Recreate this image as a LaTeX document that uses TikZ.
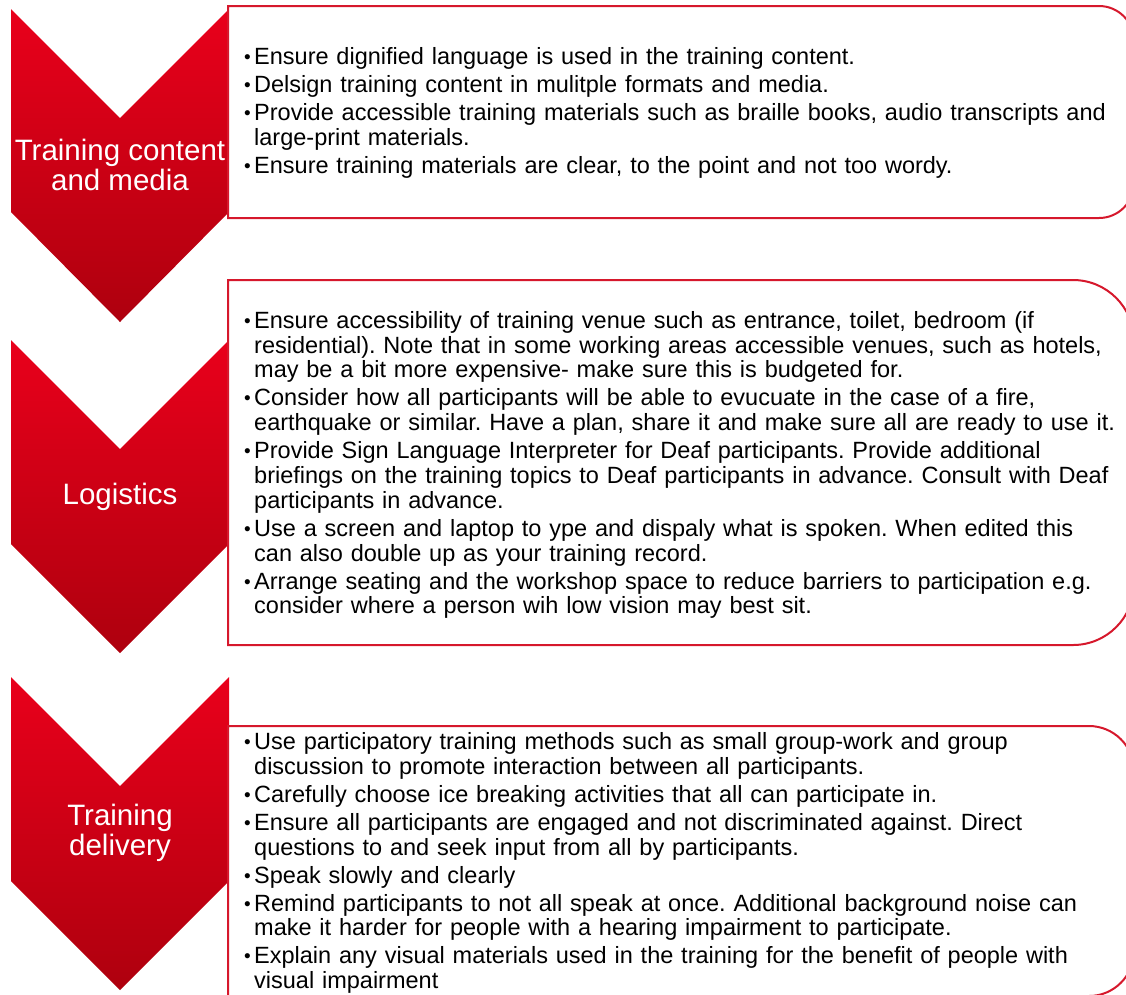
\documentclass[tikz,border=0pt]{standalone}
\usepackage{fontspec}
\setmainfont{Liberation Sans}
\definecolor{chevtop}{RGB}{233,0,27}
\definecolor{chevbot}{RGB}{174,0,14}
\definecolor{rimred}{RGB}{214,24,44}
\newcommand{\bitem}[1]{\hangindent=11pt\hangafter=1\noindent
	\makebox[11pt][l]{\hspace{1pt}\raisebox{1pt}{\fontsize{19}{19}\selectfont\textbullet}}#1\par}

\begin{document}
\begin{tikzpicture}[x=1pt, y=-1pt,
  chevron/.style={top color=chevtop, bottom color=chevbot, draw=none},
  listbox/.style={draw=rimred, line width=2pt, fill=white},
  heading/.style={text=white, align=center, inner sep=0pt, font=\fontsize{29.5}{30.5}\selectfont},
  bullets/.style={anchor=west, inner sep=0pt, text width=900pt,
    font=\fontsize{23.5}{24.8}\selectfont\frenchspacing\raggedright\setlength{\parskip}{3.2pt}}]
	\useasboundingbox (0,0) rectangle (1126,994);
	\clip (0,0) rectangle (1126,994);

	% chevrons
	\path[chevron] (11,9) -- (120,118) -- (229,9) -- (229,212) -- (120,322) -- (11,212) -- cycle;
	\path[chevron] (11,340) -- (120,449) -- (229,340) -- (229,544) -- (120,653) -- (11,544) -- cycle;
	\path[chevron] (11,677) -- (120,786) -- (229,677) -- (229,881) -- (120,990) -- (11,881) -- cycle;
	\node[heading] (h1) at (120,165) {Training content\\and media};
	\node[heading] (h2) at (120,497) {Logistics};
	\node[heading] (h3) at (120,833) {Training\\delivery};

	% text panels, rounded on the right
	\draw[listbox] (228,6) -- (1099,6) arc[start angle=-90, end angle=0, radius=35]
		-- (1134,183) arc[start angle=0, end angle=90, radius=35] -- (228,218) -- cycle;
	\draw[listbox] (228,280) -- (1073,280) arc[start angle=-90, end angle=0, radius=61]
		-- (1134,584) arc[start angle=0, end angle=90, radius=61] -- (228,645) -- cycle;
	\draw[listbox] (228,726) -- (1089,726) arc[start angle=-90, end angle=0, radius=45]
		-- (1134,951) arc[start angle=0, end angle=90, radius=45] -- (228,996) -- cycle;

	\node[bullets] (l1) at (243,113) {%
		\bitem{Ensure dignified language is used in the training content.}
		\bitem{Delsign training content in mulitple formats and media.}
		\bitem{Provide accessible training materials such as braille books, audio transcripts and\newline large-print materials.}
		\bitem{Ensure training materials are clear, to the point and not too wordy.}};
	\node[bullets] (l2) at (243,465) {%
		\bitem{Ensure accessibility of training venue such as entrance, toilet, bedroom (if\newline residential). Note that in some working areas accessible venues, such as hotels,\newline may be a bit more expensive- make sure this is budgeted for.}
		\bitem{Consider how all participants will be able to evucuate in the case of a fire,\newline earthquake or similar. Have a plan, share it and make sure all are ready to use it.}
		\bitem{Provide Sign Language Interpreter for Deaf participants. Provide additional\newline briefings on the training topics to Deaf participants in advance. Consult with Deaf\newline participants in advance.}
		\bitem{Use a screen and laptop to ype and dispaly what is spoken. When edited this\newline can also double up as your training record.}
		\bitem{Arrange seating and the workshop space to reduce barriers to participation e.g.\newline consider where a person wih low vision may best sit.}};
	\node[bullets] (l3) at (243,863) {%
		\bitem{Use participatory training methods such as small group-work and group\newline discussion to promote interaction between all participants.}
		\bitem{Carefully choose ice breaking activities that all can participate in.}
		\bitem{Ensure all participants are engaged and not discriminated against. Direct\newline questions to and seek input from all by participants.}
		\bitem{Speak slowly and clearly}
		\bitem{Remind participants to not all speak at once. Additional background noise can\newline make it harder for people with a hearing impairment to participate.}
		\bitem{Explain any visual materials used in the training for the benefit of people with\newline visual impairment}};
\end{tikzpicture}
\end{document}
